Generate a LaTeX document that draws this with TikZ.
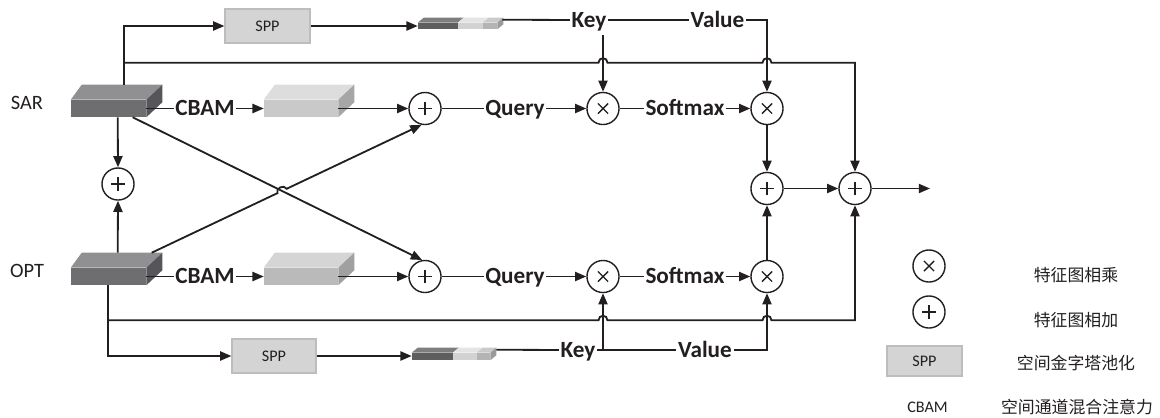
\documentclass[tikz,border=0pt]{standalone}
\usepackage{fontspec}
\setmainfont{Carlito}
\newfontfamily\cjk{Noto Sans CJK SC}
\usetikzlibrary{calc,arrows.meta}
\definecolor{ink}{HTML}{231F20}
\definecolor{dfront}{HTML}{6E6E70}
\definecolor{dtop}{HTML}{909092}
\definecolor{dside}{HTML}{55555A}
\definecolor{lfrontA}{HTML}{C9C9C9}
\definecolor{ltopA}{HTML}{DDDDDD}
\definecolor{lsideA}{HTML}{A6A6A6}
\definecolor{lfrontB}{HTML}{BABABA}
\definecolor{ltopB}{HTML}{D5D5D5}
\definecolor{lsideB}{HTML}{A0A0A0}
\definecolor{sppfill}{HTML}{D4D4D4}
\definecolor{sppline}{HTML}{BDBDBD}
\definecolor{bdark}{HTML}{5E5E5E}
\definecolor{bdarkt}{HTML}{7E7E7E}
\definecolor{blight}{HTML}{D2D2D2}
\definecolor{blightt}{HTML}{E4E4E4}
\definecolor{bmid}{HTML}{B4B4B4}
\definecolor{bmidt}{HTML}{CACACA}
\definecolor{bmids}{HTML}{9A9A9A}
\newcommand\drawcubefaces[3]{%
  \fill[#2] (#1.north west) -- ++(11,-15) -- ($(#1.north east)+(16,-15)$) -- (#1.north east) -- cycle;
  \fill[#3] (#1.north east) -- ++(16,-15) -- ($(#1.south east)+(16,-15)$) -- (#1.south east) -- cycle;}
\newcommand\drawbarfaces[3]{%
  \fill[bdark] (#1.north west) rectangle ($(#1.south west)+(#2,0)$);
  \fill[blight] ($(#1.north west)+(#2,0)$) rectangle ($(#1.south west)+(#2+#3,0)$);
  \fill[bmid] ($(#1.north west)+(#2+#3,0)$) rectangle (#1.south east);
  \fill[bdarkt] (#1.north west) -- ++(6,-5) -- ++(#2,0) -- ++(-6,5) -- cycle;
  \fill[blightt] ($(#1.north west)+(#2,0)$) -- ++(6,-5) -- ++(#3,0) -- ++(-6,5) -- cycle;
  \fill[bmidt] ($(#1.north west)+(#2+#3,0)$) -- ++(6,-5) -- ($(#1.north east)+(6,-5)$) -- (#1.north east) -- cycle;
  \fill[bmids] (#1.north east) -- ++(6,-5) -- ($(#1.south east)+(6,-5)$) -- (#1.south east) -- cycle;}
\begin{document}
\begin{tikzpicture}[x=0.025cm,y=-0.025cm,
  ln/.style={draw=ink,line width=1.3pt},
  tip/.style={-{Triangle[length=8pt,width=6.5pt]}},
  dblk/.style={rectangle,inner sep=0pt,minimum width=53.35pt,minimum height=12.1pt,fill=dfront},
  lblk/.style={rectangle,inner sep=0pt,minimum width=52.6pt,minimum height=12.1pt},
  barn/.style={rectangle,inner sep=0pt},
  opn/.style={circle,draw=ink,fill=white,line width=1pt,minimum size=22.8pt,inner sep=0pt},
  plusn/.style={opn,path picture={\draw[ink,line width=1pt]
      ([xshift=-4.8pt]path picture bounding box.center) -- ([xshift=4.8pt]path picture bounding box.center)
      ([yshift=-4.8pt]path picture bounding box.center) -- ([yshift=4.8pt]path picture bounding box.center);}},
  timesn/.style={opn,path picture={\draw[ink,line width=1pt]
      ([shift={(-3.6pt,-3.6pt)}]path picture bounding box.center) -- ([shift={(3.6pt,3.6pt)}]path picture bounding box.center)
      ([shift={(-3.6pt,3.6pt)}]path picture bounding box.center) -- ([shift={(3.6pt,-3.6pt)}]path picture bounding box.center);}},
  sppbox/.style={rectangle,draw=sppline,fill=sppfill,line width=0.8pt,inner sep=0pt,font=\fontsize{11.5}{13}\selectfont,text=ink},
  blbl/.style={inner sep=1pt,font=\fontsize{16.5}{18}\selectfont\bfseries,text=ink,text height=10.6pt,text depth=0pt},
  rlbl/.style={inner sep=1pt,font=\fontsize{14.5}{16}\selectfont,text=ink,text height=9.3pt,text depth=0pt},
  cjkl/.style={inner sep=0pt,font=\cjk\fontsize{12}{14}\selectfont,text=ink}]
\useasboundingbox (0,0) rectangle (1160,417);

% blocks
\node[dblk] (sar) at (108.5,108.5) {};
\drawcubefaces{sar}{dtop}{dside}
\node[dblk] (opt) at (108.5,276.5) {};
\drawcubefaces{opt}{dtop}{dside}
\node[lblk,fill=lfrontA] (f1) at (301,108.5) {};
\drawcubefaces{f1}{ltopA}{lsideA}
\node[lblk,fill=lfrontB] (f2) at (301,276.5) {};
\drawcubefaces{f2}{ltopB}{lsideB}

% left labels
\node[rlbl] (sarl) at (27,102.5) {SAR};
\node[rlbl] (optl) at (27,270.5) {OPT};

% SPP and bars
\node[sppbox,minimum width=60.5pt,minimum height=24.2pt] (spp1) at (267.5,26) {SPP};
\node[sppbox,minimum width=59.8pt,minimum height=24.2pt] (spp2) at (274,356) {SPP};
\node[barn,minimum width=56.2pt,minimum height=4.3pt] (bar1) at (457.5,26) {};
\drawbarfaces{bar1}{40}{25}
\node[barn,minimum width=55.5pt,minimum height=5pt] (bar2) at (451,356.5) {};
\drawbarfaces{bar2}{41}{24}

% operators
\node[plusn] (p1) at (425,108.5) {};
\node[timesn] (t1) at (603,108.5) {};
\node[timesn] (t2) at (767,108.5) {};
\node[plusn] (pm) at (118,184) {};
\node[plusn] (p2) at (425,276.5) {};
\node[timesn] (t3) at (603,276.5) {};
\node[timesn] (t4) at (767,276.5) {};
\node[plusn] (pA) at (767,188.5) {};
\node[plusn] (pR) at (855,188.5) {};

% text labels on lines
\node[blbl] (cb1) at (205,108.5) {CBAM};
\node[blbl] (cb2) at (205,276.5) {CBAM};
\node[blbl] (q1) at (515,108.5) {Query};
\node[blbl] (q2) at (515,276.5) {Query};
\node[blbl] (s1) at (685,108.5) {Softmax};
\node[blbl] (s2) at (685,276.5) {Softmax};
\node[blbl] (k1) at (589,20) {Key};
\node[blbl] (v1) at (717.5,20) {Value};
\node[blbl] (k2) at (578,350) {Key};
\node[blbl] (v2) at (705,350) {Value};

% coordinates
\coordinate (sarTop) at ($(sar.north west)+(53,-15)$);
\coordinate (h1) at ($(sarTop)+(0,-22)$);
\coordinate (oBot) at ($(opt.south west)+(37,0)$);
\coordinate (h2) at ($(oBot)+(0,35)$);
\coordinate (b1e) at ($(bar1.north east)+(5,-3)$);
\coordinate (b2e) at ($(bar2.north east)+(6,-3)$);
\coordinate (outC) at (930,188.5);

% top row
\draw[ln] (sar.east) -- (cb1.west);
\draw[ln,tip] (cb1.east) -- (f1.west);
\draw[ln,tip] (f1.east) -- (p1.west);
\draw[ln] (p1.east) -- (q1.west);
\draw[ln,tip] (q1.east) -- (t1.west);
\draw[ln] (t1.east) -- (s1.west);
\draw[ln,tip] (s1.east) -- (t2.west);
% bottom row
\draw[ln] (opt.east) -- (cb2.west);
\draw[ln,tip] (cb2.east) -- (f2.west);
\draw[ln,tip] (f2.east) -- (p2.west);
\draw[ln] (p2.east) -- (q2.west);
\draw[ln,tip] (q2.east) -- (t3.west);
\draw[ln] (t3.east) -- (s2.west);
\draw[ln,tip] (s2.east) -- (t4.west);

% SPP branches
\draw[ln,tip] (sarTop) |- (spp1.west);
\draw[ln,tip] (spp1.east) -- (spp1.east -| bar1.west);
\draw[ln] (b1e) -- (k1.west);
\draw[ln] (k1.east) -- (v1.west);
\draw[ln,tip] (v1.east) -| (t2.north);
\draw[ln,tip] ($(k1.south -| t1)+(0,6)$) -- (t1.north);

\draw[ln,tip] (oBot) |- (spp2.west);
\draw[ln,tip] (spp2.east) -- (spp2.east -| bar2.west);
\draw[ln] (b2e) -- (k2.west);
\draw[ln] (k2.east) -- (v2.west);
\draw[ln,tip] (v2.east) -| (t4.south);
\draw[ln,tip] (t3 |- k2.east) -- (t3.south);

% long bypass lines with hops
\draw[ln,tip] (h1) -- ($(t1|-h1)+(-4.5,0)$)
  .. controls ($(t1|-h1)+(-4.5,-6)$) and ($(t1|-h1)+(4.5,-6)$) .. ($(t1|-h1)+(4.5,0)$)
  -- ($(t2|-h1)+(-4.5,0)$)
  .. controls ($(t2|-h1)+(-4.5,-6)$) and ($(t2|-h1)+(4.5,-6)$) .. ($(t2|-h1)+(4.5,0)$)
  -| (pR.north);
\draw[ln,tip] (h2) -- ($(t3|-h2)+(-4.5,0)$)
  .. controls ($(t3|-h2)+(-4.5,-6)$) and ($(t3|-h2)+(4.5,-6)$) .. ($(t3|-h2)+(4.5,0)$)
  -- ($(t4|-h2)+(-4.5,0)$)
  .. controls ($(t4|-h2)+(-4.5,-6)$) and ($(t4|-h2)+(4.5,-6)$) .. ($(t4|-h2)+(4.5,0)$)
  -| (pR.south);

% middle plus
\draw[ln,tip] ($(sar.south west)+(47,0)$) -- (pm.north);
\draw[ln,tip] ($(opt.north west)+(47,-15)$) -- (pm.south);

% crossing diagonals
\coordinate (d1s) at ($(opt.north west)+(81,-15)$);
\coordinate (d1e) at (p1.258);
\coordinate (ha) at ($(d1s)!0.466!(d1e)$);
\coordinate (hb) at ($(d1s)!0.500!(d1e)$);
\draw[ln,tip] (d1s) -- (ha)
  .. controls ($(ha)!3.8pt!90:(hb)$) and ($(hb)!3.8pt!-90:(ha)$) .. (hb) -- (d1e);
\draw[ln,tip] ($(sar.south west)+(62,0)$) -- (p2.100);

% right side
\draw[ln,tip] (t2.south) -- (pA.north);
\draw[ln,tip] (t4.north) -- (pA.south);
\draw[ln,tip] (pA.east) -- (pR.west);
\draw[ln,tip] (pR.east) -- (outC);

% legend
\node[timesn] (lt) at (929,266) {};
\node[plusn] (lp) at (929,312) {};
\node[sppbox,minimum width=53.3pt,minimum height=21.3pt] (lspp) at (924.5,361) {SPP};
\node[inner sep=0pt,font=\fontsize{11.5}{13}\selectfont,text=ink] (lcb) at (927.5,407.5) {CBAM};
\node[cjkl] (lt1) at (1076,275) {特征图相乘};
\node[cjkl] (lt2) at (1076,320) {特征图相加};
\node[cjkl] (lt3) at (1076,363) {空间金字塔池化};
\node[cjkl] (lt4) at (1077,407.5) {空间通道混合注意力};
\end{tikzpicture}
\end{document}
